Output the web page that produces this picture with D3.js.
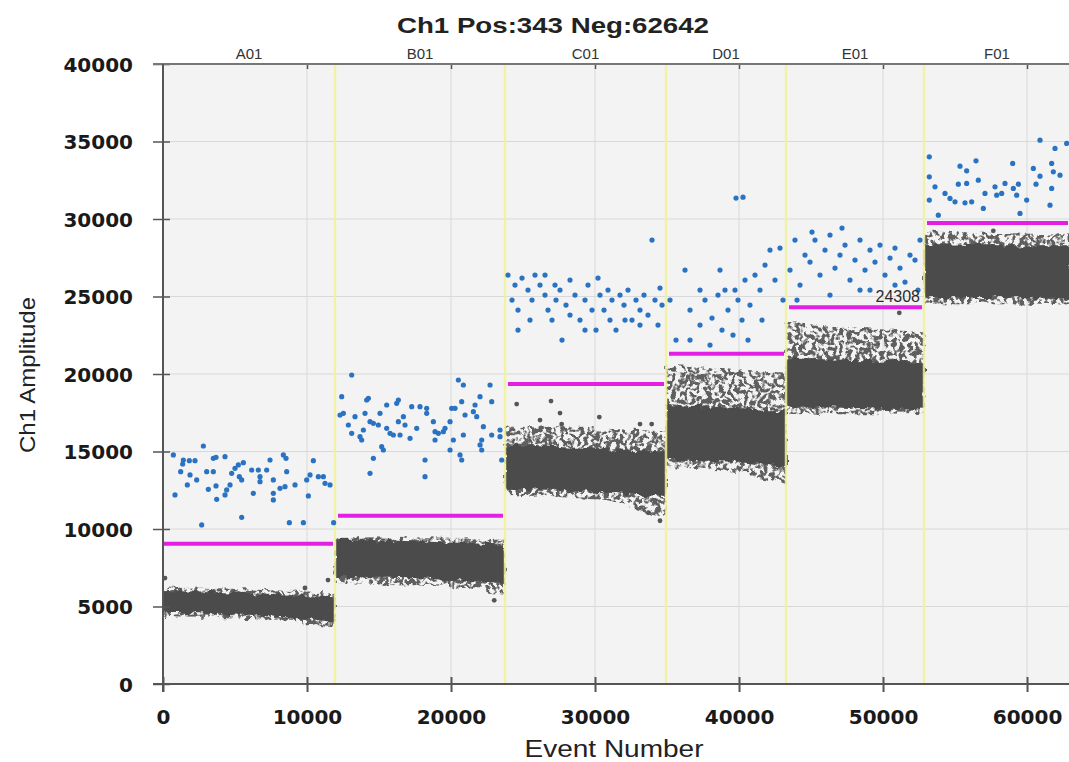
<!DOCTYPE html>
<html>
<head>
<meta charset="utf-8">
<script src="https://cdn.jsdelivr.net/npm/d3@7"></script>
<style>
	body { margin: 0; background: #ffffff; }
	svg { display: block; }
</style>
</head>
<body>
<div id="chart"></div>
<script>
// wells, boundaries (event number) and thresholds (amplitude)
var wells = ["A01", "B01", "C01", "D01", "E01", "F01"];
var wellStart = [0, 11944, 23750, 34930, 43264, 52847];
var totalEvents = 62985;
var thresholds = [9050, 10850, 19350, 21300, 24308, 29750];
var labelledThreshold = 4; // E01 shows its value

var xTicks = [0, 10000, 20000, 30000, 40000, 50000, 60000];
var yTicks = [0, 5000, 10000, 15000, 20000, 25000, 30000, 35000, 40000];

// negative droplet clouds: [event, low, high]
var coreA01 = [[0, 4600, 6000], [5000, 4500, 5900], [10000, 4200, 5700], [11944, 4000, 5600]];
var coreB01 = [[11944, 6900, 9300], [18000, 6800, 9200], [23750, 6500, 9000]];
var coreC01 = [[23750, 12600, 15400], [30000, 12400, 15200], [34930, 12000, 15000]];
var coreD01 = [[34930, 14500, 18000], [40000, 14300, 17800], [43264, 14000, 17600]];
var coreE01 = [[43264, 17900, 21000], [48000, 17800, 20900], [52847, 17700, 20800]];
var coreF01 = [[52847, 24900, 28400], [58000, 24900, 28300], [62985, 24800, 28300]];

var fringeA01 = [[0, 4300, 6300], [6000, 4200, 6100], [11944, 3700, 5900]];
var fringeB01 = [[11944, 6500, 9500], [18000, 6400, 9400], [23750, 5800, 9300]];
var fringeC01 = [[23750, 12200, 16700], [30000, 11900, 16500], [34930, 10600, 16300]];
var fringeD01 = [[34930, 14000, 20600], [40000, 13600, 20300], [43264, 12800, 20000]];
var fringeE01 = [[43264, 17500, 23300], [48000, 17400, 23000], [52847, 17500, 22700]];
var fringeF01 = [[52847, 24500, 29200], [58000, 24500, 29100], [62985, 24400, 29000]];

var rain = [[139, 6837], [9860, 6192], [11458, 6708], [23000, 5400], [24560, 18060], [26180, 17028],
	[26944, 18253], [27569, 17480], [27685, 16770], [30300, 17220], [33125, 16770], [33935, 16770],
	[33700, 11050], [34513, 10533], [51130, 23950], [57660, 29240]];

// positive droplets: [event, amplitude]
var posA01 = [[718, 14776], [1413, 14453], [1366, 14195], [1829, 14410], [2223, 14410], [1227, 13700],
	[1876, 13486], [1690, 12841], [2339, 13163], [834, 12196], [2802, 15356], [3496, 14560], [3681, 14625],
	[4306, 14668], [3033, 13700], [3496, 13700], [3149, 12561], [3681, 12776], [3728, 11916], [4306, 12196],
	[4422, 12518], [4654, 12841], [4769, 13593], [5001, 13916], [5232, 14131], [5580, 14281], [5302, 13378],
	[5464, 13163], [6158, 13808], [6621, 13808], [6737, 13378], [6737, 13056], [6274, 12303], [7200, 13808],
	[7432, 14453], [7663, 13163], [7663, 12303], [7663, 11873], [8126, 12626], [8473, 12733], [8358, 14776],
	[8543, 14560], [8589, 13700], [9168, 12841], [9978, 13163], [10210, 13486], [10441, 14410], [10094, 12131],
	[10788, 13378], [11136, 13378], [11251, 12948], [11599, 12841], [2686, 10260], [5464, 10755], [8774, 10411],
	[9747, 10411], [11850, 10411]];
var posB01 = [[12409, 18538], [12525, 17463], [12293, 17356], [13103, 19935], [12872, 16710], [13103, 16173],
	[13335, 17248], [13682, 15958], [13914, 16388], [13798, 15743], [14029, 17463], [14145, 18323], [14261, 18431],
	[14377, 16925], [14608, 16818], [14955, 16710], [15071, 17463], [15534, 18000], [15187, 15313], [15302, 15098],
	[14608, 14560], [14377, 13593], [15534, 16495], [15766, 16173], [15997, 16065], [16229, 18108], [16344, 18323],
	[16344, 16925], [16460, 16065], [16692, 17248], [16807, 16710], [17155, 15850], [17270, 17893], [17618, 16495],
	[17849, 17893], [18312, 17786], [18312, 17463], [18775, 16925], [18891, 16280], [18891, 15743], [19122, 16173],
	[19470, 16280], [19585, 16495], [19933, 16925], [20048, 17786], [20164, 15743], [20280, 17786], [20511, 19613],
	[20858, 19290], [20743, 18216], [20858, 16065], [20974, 17356], [20627, 14776], [20743, 14453], [21553, 17571],
	[21669, 18000], [21785, 17248], [22016, 18538], [22132, 15743], [22016, 15421], [22132, 15098], [22247, 16603],
	[22711, 19290], [22826, 18216], [22826, 16065], [23405, 16388], [23405, 15958], [23521, 14453], [18196, 14453],
	[18196, 13378], [19933, 15098]];
var posC01 = [[23958, 26380], [24236, 24770], [24444, 25735], [24653, 24123], [24931, 26187], [25347, 25413],
	[25625, 24768], [25833, 26380], [26180, 25735], [26528, 25090], [26736, 24123], [27014, 23478], [27292, 24768],
	[27569, 25413], [27708, 22188], [27986, 24446], [28264, 23800], [28611, 25090], [28958, 23478], [29305, 24768],
	[29514, 25735], [29792, 24123], [30069, 22833], [30347, 25090], [30625, 24123], [30903, 25413], [31180, 24768],
	[31458, 22833], [31736, 25090], [32014, 24446], [32292, 25413], [32569, 23478], [32847, 24768], [33125, 24123],
	[33403, 25090], [33680, 23800], [33958, 28638], [34166, 24768], [34375, 23155], [34653, 24446], [24653, 22833],
	[25486, 23478], [28264, 26058], [30208, 26187], [32083, 23478], [31041, 23478], [29305, 22833], [26528, 26380],
	[27222, 25735], [33125, 23155], [34514, 25542]];
var posD01 = [[35208, 24768], [35625, 22188], [36250, 26703], [36597, 24123], [37291, 23155], [37638, 24768],
	[38125, 23607], [38541, 25090], [38819, 22833], [39236, 24123], [39583, 22510], [39791, 31347], [40277, 31411],
	[39930, 24768], [40208, 23478], [40416, 26058], [40763, 24446], [41111, 26380], [41458, 25413], [41805, 27025],
	[42152, 27993], [42500, 26058], [42847, 28122], [43055, 24768], [36597, 22188], [37986, 21865], [39027, 25413],
	[39722, 25413], [40625, 22188], [41597, 23478], [37291, 25413], [38680, 26703]];
var posE01 = [[43541, 26703], [43888, 28638], [44236, 25735], [44583, 27670], [44930, 27219], [45277, 28638],
	[45625, 26380], [45972, 27993], [46319, 28960], [46666, 26832], [47013, 27670], [47361, 28315], [47708, 26058],
	[48055, 27348], [48402, 28638], [48750, 26703], [49097, 27993], [49444, 27219], [49791, 28315], [50138, 26380],
	[50486, 27477], [50833, 28122], [51180, 26832], [51527, 25929], [51875, 27670], [52222, 27348], [52569, 28638],
	[44027, 24768], [46319, 25090], [48402, 25413], [45069, 29154], [47152, 29412], [49097, 25413], [50833, 25735],
	[52430, 25413]];
var posF01 = [[53215, 34013], [53215, 32723], [53611, 32078], [53215, 31218], [53840, 30250], [54305, 31648],
	[54652, 31325], [54999, 31110], [55346, 33411], [55809, 33110], [55230, 32250], [55809, 32293], [56457, 33755],
	[56619, 32508], [55693, 31046], [56156, 31110], [56966, 30681], [57082, 31648], [57777, 32078], [57893, 31540],
	[58240, 31648], [58470, 32293], [59004, 33583], [59050, 31970], [59282, 31540], [59398, 32250], [59513, 30358],
	[59976, 31218], [60439, 33260], [60902, 32766], [60902, 35088], [60624, 32250], [61712, 33583], [61828, 33045],
	[61944, 34552], [61712, 31970], [61596, 30895], [62754, 34874], [62291, 32830]];

var cores = [coreA01, coreB01, coreC01, coreD01, coreE01, coreF01];
var fringes = [fringeA01, fringeB01, fringeC01, fringeD01, fringeE01, fringeF01];
var positives = [].concat(posA01, posB01, posC01, posD01, posE01, posF01);

function drawChart(selector) {
	var width = 1069;
	var height = 762;
	var left = 163, right = 1070, top = 64, bottom = 684;

	var svg = d3.select(selector).append("svg")
		.attr("width", width)
		.attr("height", height);

	var defs = svg.append("defs");
	var clip = defs.append("clipPath").attr("id", "plotclip");
	clip.append("rect").attr("x", left).attr("y", top).attr("width", right - left).attr("height", bottom - top);

	var rough = defs.append("filter").attr("id", "rough")
		.attr("x", "-5%").attr("y", "-20%").attr("width", "110%").attr("height", "140%");
	rough.append("feTurbulence").attr("type", "fractalNoise").attr("baseFrequency", 0.12)
		.attr("numOctaves", 2).attr("seed", 7).attr("result", "d");
	rough.append("feDisplacementMap").attr("in", "SourceGraphic").attr("in2", "d")
		.attr("scale", 9).attr("xChannelSelector", "R").attr("yChannelSelector", "G");

	var speckle = defs.append("filter").attr("id", "speckle")
		.attr("x", "-5%").attr("y", "-20%").attr("width", "110%").attr("height", "140%");
	speckle.append("feTurbulence").attr("type", "fractalNoise").attr("baseFrequency", 0.25)
		.attr("numOctaves", 1).attr("seed", 3).attr("result", "n");
	speckle.append("feColorMatrix").attr("in", "n").attr("type", "matrix")
		.attr("values", "0 0 0 0 0  0 0 0 0 0  0 0 0 0 0  9 0 0 0 -4.0").attr("result", "m");
	speckle.append("feComposite").attr("in", "SourceGraphic").attr("in2", "m")
		.attr("operator", "in").attr("result", "s");
	speckle.append("feTurbulence").attr("type", "fractalNoise").attr("baseFrequency", 0.1)
		.attr("numOctaves", 2).attr("seed", 11).attr("result", "d");
	speckle.append("feDisplacementMap").attr("in", "s").attr("in2", "d")
		.attr("scale", 8).attr("xChannelSelector", "R").attr("yChannelSelector", "G");

	var x = d3.scaleLinear().domain([0, totalEvents]).range([left, right]);
	var y = d3.scaleLinear().domain([0, 40000]).range([bottom, top]);
	var wellEnd = wellStart.slice(1).concat([totalEvents]);

	// plot background and grid
	svg.append("rect").attr("x", left).attr("y", top)
		.attr("width", right - left).attr("height", bottom - top)
		.attr("fill", "#f3f3f3");

	var grid = svg.append("g").attr("class", "grid");
	grid.selectAll("line.v").data(xTicks.slice(1)).enter().append("line")
		.attr("x1", function(d) { return x(d); }).attr("x2", function(d) { return x(d); })
		.attr("y1", top).attr("y2", bottom)
		.attr("stroke", "#d9d9d9").attr("stroke-width", 1);
	grid.selectAll("line.h").data(yTicks.slice(1, -1)).enter().append("line")
		.attr("x1", left).attr("x2", right)
		.attr("y1", function(d) { return y(d); }).attr("y2", function(d) { return y(d); })
		.attr("stroke", "#d9d9d9").attr("stroke-width", 1);

	var content = svg.append("g").attr("clip-path", "url(#plotclip)");

	var band = d3.area()
		.x(function(d) { return x(d[0]); })
		.y0(function(d) { return y(d[1]); })
		.y1(function(d) { return y(d[2]); })
		.curve(d3.curveMonotoneX);

	var clouds = content.append("g").attr("class", "clouds");
	for (var i = 0; i < wells.length; i++) {
		clouds.append("path").datum(fringes[i])
			.attr("d", band)
			.attr("fill", "#5e5e5e")
			.attr("filter", "url(#speckle)");
		clouds.append("path").datum(cores[i])
			.attr("d", band)
			.attr("fill", "#4c4c4c")
			.attr("filter", "url(#rough)");
	}

	clouds.selectAll("circle.rain").data(rain).enter().append("circle")
		.attr("cx", function(d) { return x(d[0]); })
		.attr("cy", function(d) { return y(d[1]); })
		.attr("r", 2.4)
		.attr("fill", "#555555");

	// well boundaries
	content.selectAll("line.well").data(wellStart.slice(1)).enter().append("line")
		.attr("x1", function(d) { return x(d); }).attr("x2", function(d) { return x(d); })
		.attr("y1", top).attr("y2", bottom)
		.attr("stroke", "#f2f29a").attr("stroke-width", 2.5).attr("opacity", 0.85);

	// thresholds
	content.selectAll("line.thr").data(thresholds).enter().append("line")
		.attr("x1", function(d, i) { return x(wellStart[i]) + (i === 0 ? 0 : 3); })
		.attr("x2", function(d, i) { return x(wellEnd[i]) - 2; })
		.attr("y1", function(d) { return y(d); }).attr("y2", function(d) { return y(d); })
		.attr("stroke", "#e41fe4").attr("stroke-width", 4);

	// positive droplets
	content.selectAll("circle.pos").data(positives).enter().append("circle")
		.attr("cx", function(d) { return x(d[0]); })
		.attr("cy", function(d) { return y(d[1]); })
		.attr("r", 2.6)
		.attr("fill", "#2a72c2");

	svg.append("text")
		.attr("x", x(wellEnd[labelledThreshold]) - 4)
		.attr("y", y(thresholds[labelledThreshold]) - 5)
		.attr("text-anchor", "end")
		.attr("font-family", "Liberation Sans, Arial, sans-serif")
		.attr("font-size", 16)
		.attr("fill", "#2b2b2b")
		.text(thresholds[labelledThreshold]);

	// axes
	var axisColor = "#555555";
	var yAxis = svg.append("g")
		.attr("transform", "translate(" + left + ",0)")
		.call(d3.axisLeft(y).tickValues(yTicks).tickSize(10).tickPadding(20).tickFormat(d3.format("d")));
	yAxis.select(".domain").remove();
	yAxis.selectAll(".tick line").attr("x1", 7).attr("stroke", axisColor).attr("stroke-width", 1.5);
	yAxis.selectAll(".tick text")
		.attr("font-family", "DejaVu Sans, sans-serif")
		.attr("font-weight", "bold")
		.attr("font-size", 20)
		.attr("fill", "#1a1a1a")
		.attr("dy", "0.36em");

	var xAxis = svg.append("g")
		.attr("transform", "translate(0," + bottom + ")")
		.call(d3.axisBottom(x).tickValues(xTicks).tickSize(8).tickPadding(18).tickFormat(d3.format("d")));
	xAxis.select(".domain").remove();
	xAxis.selectAll(".tick line").attr("y1", -7).attr("stroke", axisColor).attr("stroke-width", 2);
	xAxis.selectAll(".tick text")
		.attr("font-family", "DejaVu Sans, sans-serif")
		.attr("font-weight", "bold")
		.attr("font-size", 20)
		.attr("fill", "#1a1a1a");

	var topAxis = svg.append("g")
		.attr("transform", "translate(0," + top + ")")
		.call(d3.axisBottom(x).tickValues(xTicks.slice(1)).tickSize(5).tickFormat(""));
	topAxis.select(".domain").remove();
	topAxis.selectAll(".tick line").attr("stroke", axisColor).attr("stroke-width", 1.5);

	svg.append("line").attr("x1", left - 10).attr("x2", right).attr("y1", bottom).attr("y2", bottom)
		.attr("stroke", axisColor).attr("stroke-width", 2);
	svg.append("line").attr("x1", left - 10).attr("x2", right).attr("y1", top).attr("y2", top)
		.attr("stroke", "#777777").attr("stroke-width", 2);
	svg.append("line").attr("x1", left).attr("x2", left).attr("y1", top).attr("y2", bottom + 8)
		.attr("stroke", axisColor).attr("stroke-width", 2);

	// well labels
	svg.selectAll("text.well").data(wells).enter().append("text")
		.attr("x", function(d, i) { return (x(wellStart[i]) + x(wellEnd[i])) / 2; })
		.attr("y", top - 5)
		.attr("text-anchor", "middle")
		.attr("font-family", "Liberation Sans, Arial, sans-serif")
		.attr("font-size", 15)
		.attr("fill", "#333333")
		.text(function(d) { return d; });

	// titles
	svg.append("text")
		.attr("x", 553).attr("y", 33)
		.attr("text-anchor", "middle")
		.attr("font-family", "Liberation Sans, Arial, sans-serif")
		.attr("font-weight", "bold")
		.attr("font-size", 22)
		.attr("fill", "#222222")
		.attr("textLength", 312)
		.attr("lengthAdjust", "spacingAndGlyphs")
		.text("Ch1 Pos:343 Neg:62642");

	svg.append("text")
		.attr("x", 614).attr("y", 757)
		.attr("text-anchor", "middle")
		.attr("font-family", "Liberation Sans, Arial, sans-serif")
		.attr("font-size", 23)
		.attr("fill", "#222222")
		.attr("textLength", 179)
		.attr("lengthAdjust", "spacingAndGlyphs")
		.text("Event Number");

	svg.append("text")
		.attr("transform", "translate(35,375) rotate(-90)")
		.attr("text-anchor", "middle")
		.attr("font-family", "Liberation Sans, Arial, sans-serif")
		.attr("font-size", 22)
		.attr("fill", "#222222")
		.attr("textLength", 156)
		.attr("lengthAdjust", "spacingAndGlyphs")
		.text("Ch1 Amplitude");
}

drawChart("#chart");
</script>
</body>
</html>
